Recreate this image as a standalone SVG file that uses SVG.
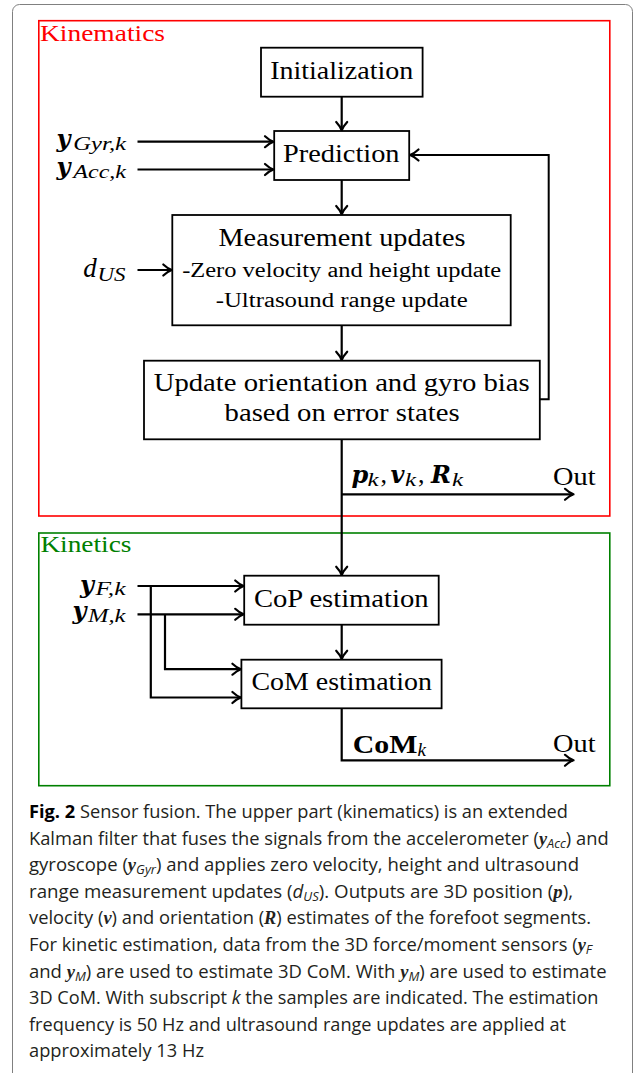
<svg xmlns="http://www.w3.org/2000/svg" width="634" height="1073" viewBox="0 0 634 1073">
<defs>
<style>
.box{fill:#fff;stroke:#000;stroke-width:1.8}
.ln{fill:none;stroke:#000;stroke-width:2.2}
.ar{marker-end:url(#ah)}
.t{font-family:"Liberation Serif","Times New Roman",serif;font-size:26px;fill:#000}
.s{font-size:20px}
.mb{font-family:"DejaVu Serif",serif;font-weight:bold;font-style:italic;font-size:24px;fill:#000}
.mi{font-family:"Liberation Serif","Times New Roman",serif;font-style:italic;font-size:19px;fill:#000}
.cap{font-family:"Open Sans","Noto Sans",sans-serif;font-size:18.6px;fill:#231f20}
.cb{font-family:"Liberation Serif",serif;font-weight:bold;font-style:italic}
.cs{font-style:italic;font-size:13px}
</style>
<marker id="ah" markerUnits="userSpaceOnUse" markerWidth="20" markerHeight="20" viewBox="-10 -10 20 20" refX="0" refY="0" orient="auto" overflow="visible">
<path d="M-8,-5.5 Q-3.5,-1.3 0.5,0 Q-3.5,1.3 -8,5.5" fill="none" stroke="#000" stroke-width="2.2" stroke-linecap="round" stroke-linejoin="round"/>
</marker>
</defs>
<rect x="12.5" y="4.5" width="620" height="1200" rx="7" fill="#fff" stroke="#808080" stroke-width="1"/>

<g id="kinematics">
<rect x="38.8" y="20.7" width="571" height="495.3" fill="none" stroke="#ff0000" stroke-width="1.6"/>
<text class="t" x="40" y="40.5" style="font-size:23px;fill:#ff0000" textLength="125" lengthAdjust="spacingAndGlyphs">Kinematics</text>
</g>
<g id="kinetics">
<rect x="38.8" y="533" width="571" height="252.7" fill="none" stroke="#008000" stroke-width="1.6"/>
<text class="t" x="40.4" y="551.7" style="font-size:23px;fill:#008000" textLength="91" lengthAdjust="spacingAndGlyphs">Kinetics</text>
</g>

<g id="connectors">
<path class="ln ar" d="M341.7,96.7 V130"/>
<path class="ln ar" d="M137.5,141.7 H273"/>
<path class="ln ar" d="M137.5,169.5 H273"/>
<path class="ln ar" d="M341.7,180 V214"/>
<path class="ln ar" d="M137.5,270 H171.3"/>
<path class="ln ar" d="M341.7,325.3 V359.7"/>
<path class="ln ar" d="M539.8,399.3 H548.7 V155 H410.5" style="stroke-width:2"/>
<path class="ln ar" d="M341.7,439.3 V574.7"/>
<path class="ln ar" d="M341.7,494.3 H573"/>
<path class="ln ar" d="M137.5,586 H243.2"/>
<path class="ln ar" d="M137.5,614.3 H243.2"/>
<path class="ln ar" d="M150.8,586 V697.5 H240.4"/>
<path class="ln ar" d="M165,614.3 V669.2 H240.4"/>
<path class="ln ar" d="M341.7,624.7 V658.7"/>
<path class="ln ar" d="M341.7,708.3 V760.3 H573"/>
</g>

<g id="initialization">
<rect class="box" x="261" y="47.7" width="161.6" height="49"/>
<text class="t" x="341.7" y="79" text-anchor="middle" textLength="143" lengthAdjust="spacingAndGlyphs">Initialization</text>
</g>
<g id="prediction">
<rect class="box" x="274.2" y="131" width="135" height="49"/>
<text class="t" x="341.3" y="162.3" text-anchor="middle" textLength="116.5" lengthAdjust="spacingAndGlyphs">Prediction</text>
</g>
<g id="measurement">
<rect class="box" x="172.3" y="215" width="338.4" height="110.3"/>
<text class="t" x="342" y="245.7" text-anchor="middle" textLength="247" lengthAdjust="spacingAndGlyphs">Measurement updates</text>
<text class="t s" x="341.7" y="276.7" text-anchor="middle" textLength="319" lengthAdjust="spacingAndGlyphs">-Zero velocity and height update</text>
<text class="t s" x="341.7" y="307.3" text-anchor="middle" textLength="252" lengthAdjust="spacingAndGlyphs">-Ultrasound range update</text>
</g>
<g id="update">
<rect class="box" x="144" y="360.7" width="395.8" height="78.6"/>
<text class="t" x="341.7" y="390.7" text-anchor="middle" textLength="376" lengthAdjust="spacingAndGlyphs">Update orientation and gyro bias</text>
<text class="t" x="342.1" y="421" text-anchor="middle" textLength="235" lengthAdjust="spacingAndGlyphs">based on error states</text>
</g>
<g id="cop">
<rect class="box" x="244.2" y="575.7" width="194.5" height="49"/>
<text class="t" x="341.3" y="606.7" text-anchor="middle" textLength="174.6" lengthAdjust="spacingAndGlyphs">CoP estimation</text>
</g>
<g id="com">
<rect class="box" x="241.4" y="659.7" width="200.2" height="48.6"/>
<text class="t" x="341.7" y="690" text-anchor="middle" textLength="180.4" lengthAdjust="spacingAndGlyphs">CoM estimation</text>
</g>

<g id="labels">
<text class="mb" x="56.5" y="147">y</text>
<text class="mi" x="73.3" y="149.5" textLength="52.7" lengthAdjust="spacingAndGlyphs">Gyr,k</text>
<text class="mb" x="56.5" y="175">y</text>
<text class="mi" x="73.3" y="177.5" textLength="52.7" lengthAdjust="spacingAndGlyphs">Acc,k</text>
<text class="t" x="83.3" y="277" style="font-style:italic;font-size:27px">d</text>
<text class="mi" x="97.5" y="280.5" textLength="28" lengthAdjust="spacingAndGlyphs">US</text>
<text class="mb" x="351.5" y="482.5">p</text>
<text class="mi" x="367.5" y="485.5" textLength="11" lengthAdjust="spacingAndGlyphs">k</text>
<text class="t" x="380.5" y="482.5">,</text>
<text class="mb" x="390.5" y="482.5">v</text>
<text class="mi" x="405" y="485.5" textLength="11" lengthAdjust="spacingAndGlyphs">k</text>
<text class="t" x="418" y="482.5">,</text>
<text class="mb" x="431" y="482.5">R</text>
<text class="mi" x="452" y="485.5" textLength="11" lengthAdjust="spacingAndGlyphs">k</text>
<text class="t" x="553" y="485" textLength="42.5" lengthAdjust="spacingAndGlyphs">Out</text>
<text class="mb" x="80" y="592.5">y</text>
<text class="mi" x="95.5" y="595" textLength="30" lengthAdjust="spacingAndGlyphs">F,k</text>
<text class="mb" x="72.5" y="619">y</text>
<text class="mi" x="88" y="621.5" textLength="37.5" lengthAdjust="spacingAndGlyphs">M,k</text>
<text class="t" x="352.7" y="753" style="font-weight:bold" textLength="64.6" lengthAdjust="spacingAndGlyphs">CoM</text>
<text class="mi" x="417.5" y="756">k</text>
<text class="t" x="553" y="751.7" textLength="42.5" lengthAdjust="spacingAndGlyphs">Out</text>
</g>

<g id="caption" class="cap">
<text x="29" y="818" textLength="539" lengthAdjust="spacingAndGlyphs"><tspan font-weight="bold" fill="#000">Fig. 2</tspan> Sensor fusion. The upper part (kinematics) is an extended</text>
<text x="29" y="844.6" textLength="579.6" lengthAdjust="spacingAndGlyphs">Kalman filter that fuses the signals from the accelerometer (<tspan class="cb">y</tspan><tspan class="cs" dy="3">Acc</tspan><tspan dy="-3">) and</tspan></text>
<text x="29" y="871.2" textLength="550" lengthAdjust="spacingAndGlyphs">gyroscope (<tspan class="cb">y</tspan><tspan class="cs" dy="3">Gyr</tspan><tspan dy="-3">) and applies zero velocity, height and ultrasound</tspan></text>
<text x="29" y="897.8" textLength="544" lengthAdjust="spacingAndGlyphs">range measurement updates (<tspan font-style="italic">d</tspan><tspan class="cs" dy="3">US</tspan><tspan dy="-3">). Outputs are 3D position (</tspan><tspan class="cb">p</tspan>),</text>
<text x="29" y="924.4" textLength="562" lengthAdjust="spacingAndGlyphs">velocity (<tspan class="cb">v</tspan>) and orientation (<tspan class="cb">R</tspan>) estimates of the forefoot segments.</text>
<text x="29" y="951" textLength="563" lengthAdjust="spacingAndGlyphs">For kinetic estimation, data from the 3D force/moment sensors (<tspan class="cb">y</tspan><tspan class="cs" dy="3">F</tspan></text>
<text x="29" y="977.6" textLength="577.6" lengthAdjust="spacingAndGlyphs">and <tspan class="cb">y</tspan><tspan class="cs" dy="3">M</tspan><tspan dy="-3">) are used to estimate 3D CoM. With </tspan><tspan class="cb">y</tspan><tspan class="cs" dy="3">M</tspan><tspan dy="-3">) are used to estimate</tspan></text>
<text x="29" y="1004.2" textLength="569.5" lengthAdjust="spacingAndGlyphs">3D CoM. With subscript <tspan font-style="italic">k</tspan> the samples are indicated. The estimation</text>
<text x="29" y="1030.8" textLength="537" lengthAdjust="spacingAndGlyphs">frequency is 50 Hz and ultrasound range updates are applied at</text>
<text x="29" y="1057.4" textLength="175" lengthAdjust="spacingAndGlyphs">approximately 13 Hz</text>
</g>
</svg>
